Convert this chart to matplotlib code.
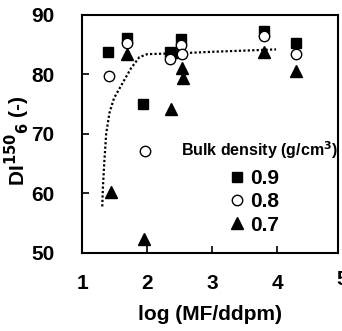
import matplotlib
matplotlib.use("Agg")
import matplotlib.pyplot as plt

plt.rcParams['font.family'] = ['Liberation Sans', 'DejaVu Sans']
plt.rcParams['font.weight'] = 'bold'

# Bulk density 0.9 (filled squares)
x09 = [1.40, 1.69, 1.94, 2.35, 2.52, 2.48, 3.80, 4.29]
y09 = [83.7, 86.2, 75.0, 83.7, 85.9, 83.6, 87.3, 85.2]
# Bulk density 0.8 (open circles)
x08 = [1.41, 1.69, 1.97, 2.35, 2.52, 2.54, 3.80, 4.29]
y08 = [79.8, 85.2, 67.2, 82.6, 85.0, 83.5, 86.4, 83.5]
# Bulk density 0.7 (filled triangles)
x07 = [1.45, 1.69, 1.95, 2.37, 2.53, 2.55, 3.80, 4.29]
y07 = [60.2, 83.5, 52.4, 74.2, 81.0, 79.4, 83.8, 80.6]
# dotted trend curve
xc = [1.31, 1.32, 1.34, 1.37, 1.42, 1.49, 1.62, 1.75, 1.88, 2.0, 2.3, 2.6, 3.0, 3.5, 3.98]
yc = [57.8, 61.0, 65.0, 70.0, 73.5, 76.0, 78.5, 81.0, 82.9, 83.4, 83.5, 83.6, 83.8, 84.0, 84.2]

xticks = [1, 2, 3, 4]
yticks = [50, 60, 70, 80, 90]

fig = plt.figure(figsize=(3.42, 3.31), dpi=100)
ax = fig.add_axes([0.240, 0.236, 0.748, 0.719])

ax.plot(xc, yc, color='black', ls=(0, (1, 1)), lw=1.6)
ax.plot(x09, y09, ls='none', marker='s', ms=7, color='black', label='0.9')
ax.plot(x08, y08, ls='none', marker='o', ms=7.5, mfc='white', mec='black', mew=1.0, label='0.8')
ax.plot(x07, y07, ls='none', marker='^', ms=8.5, color='black', label='0.7')

ax.set_xlim(1, 4.93)
ax.set_ylim(50, 90)
ax.set_xticks(xticks)
ax.set_yticks(yticks)
ax.tick_params(direction='in', length=5, width=1.2, labelsize=15)
ax.tick_params(axis='x', pad=15)
ax.tick_params(axis='y', pad=20)
for lab in ax.get_xticklabels() + ax.get_yticklabels():
    lab.set_fontweight('bold')
ax.text(5, -0.07, '5', transform=ax.get_xaxis_transform(), ha='center', va='top',
        fontsize=15, fontweight='bold', clip_on=False)
for s in ax.spines.values():
    s.set_linewidth(1.5)

ax.set_xlabel('log (MF/ddpm)', fontsize=15, fontweight='bold', labelpad=9)
fig.text(0.052, 0.574, r'DI$^{\mathbf{150}}$$_{\mathbf{6}}$ (-)', rotation=90,
         ha='center', va='center', fontsize=15, fontweight='bold')

ax.text(0.695, 0.433, 'Bulk density (g/cm$^\\mathbf{3}$)', transform=ax.transAxes,
        ha='center', va='center', fontsize=11.5, fontweight='bold')
leg = ax.legend(loc='center', frameon=False, bbox_to_anchor=(0.675, 0.214),
                prop={'weight': 'bold', 'size': 15}, handlelength=0.6, handletextpad=0.35,
                labelspacing=0.2, borderpad=0, borderaxespad=0)

fig.savefig('out.png', dpi=100)
